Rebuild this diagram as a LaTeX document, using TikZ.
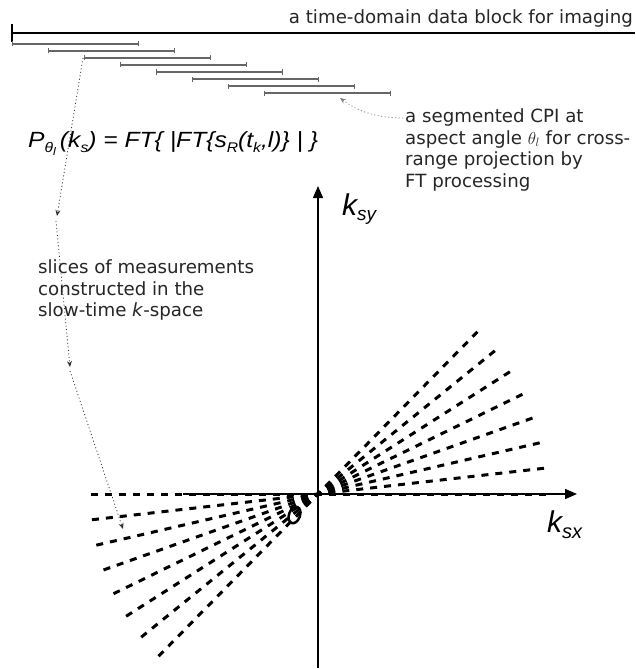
\documentclass[tikz,border=0pt]{standalone}
\usepackage{fontspec}
\setmainfont{DejaVu Sans}
\newfontfamily\arialfont{Liberation Sans}
\usetikzlibrary{arrows.meta}
\newcommand\mysub[1]{\raisebox{-5pt}{\fontsize{14}{14}\selectfont #1}}
\begin{document}
\begin{tikzpicture}[x=1pt,y=-1pt,
  lbl/.style={font=\fontsize{18.2}{21.8}\selectfont, inner sep=0pt, text=black!85},
  seg/.style={draw=black!60, line width=1.1pt, {Bar[width=5pt,line width=0.8pt]}-{Bar[width=5pt,line width=0.8pt]}},
  ray/.style={line width=3pt, dash pattern=on 7pt off 7pt, dash phase=3.5pt},
  axis/.style={line width=1.4pt, -{Triangle[length=12pt,width=10pt]}},
  dotarrow/.style={line width=0.8pt, draw=black!80, dash pattern=on 1pt off 2.5pt, -{Stealth[length=6pt,width=5pt]}},
  eqfont/.style={inner sep=0pt, font=\arialfont\itshape\fontsize{22}{24}\selectfont},
  kfont/.style={inner sep=0pt, font=\arialfont\itshape\fontsize{30}{32}\selectfont},
]
\useasboundingbox (0,0) rectangle (635,669);
\fill[white] (0,0) rectangle (635,669);

% top data block
\coordinate (b0) at (12,33);
\coordinate (b1) at (635,33);
\draw[line width=2pt] (b0) -- (b1);
\draw[line width=2.5pt] (12,24) -- (12,42);
\node[lbl, anchor=base east] (blk) at (633,24) {a time-domain data block for imaging};

% segmented CPIs
\foreach \i in {0,...,7} {
  \draw[seg] (12+36.05*\i, 44+7*\i) -- ++(126.5,0);
}

% formula
\node[eqfont, anchor=base west] (eq) at (28,147)
  {\scalebox{1.12}[1]{P\mysub{θ\raisebox{-3pt}{\fontsize{11}{11}\selectfont l}}\,(k\mysub{s}) = FT\{ |FT\{s\mysub{R}(t\mysub{k},l)\} | \}}};

% CPI text
\node[lbl, anchor=north west, align=left] (cpi) at (405,108.3)
  {a segmented CPI at\\aspect angle $\theta_l$ for cross-\\range projection by\\FT processing};

% slices text
\node[lbl, anchor=north west, align=left] (sl) at (38,259.3)
  {slices of measurements\\constructed in the\\slow-time \textit{k}-space};

% axes
\coordinate (O) at (318,494);
\coordinate (xl) at (183,494);
\coordinate (xr) at (577,494);
\coordinate (yb) at (318,668);
\coordinate (yt) at (318,186);
\draw[axis] (xl) -- (xr);
\draw[axis] (yb) -- (yt);
\node[kfont, anchor=base west] (ky) at (342,215) {k\raisebox{-5pt}{\fontsize{19}{19}\selectfont sy}};
\node[kfont, anchor=base west] (kx) at (547,532) {k\raisebox{-6pt}{\fontsize{20}{20}\selectfont sx}};

% rays
\foreach \k in {0,...,7} {
  \draw[ray] (O) -- ++(-6.5*\k:233);
  \draw[ray] (O) -- ++(180-6.5*\k:233);
}
\draw[line width=2.5pt, rotate around={-20:(294.5,515)}] (294.5,515) ellipse [x radius=5.5pt, y radius=8.5pt];

% dotted connectors
\coordinate (s3) at (83,58);
\coordinate (d1) at (57,216);
\coordinate (d2s) at (56,221);
\coordinate (d2) at (70,367);
\coordinate (d3s) at (70,371);
\coordinate (d3) at (123,529);
\draw[dotarrow] (s3) -- (d1);
\draw[dotarrow] (d2s) -- (d2);
\draw[dotarrow] (d3s) -- (d3);
\coordinate (c0) at (403,118);
\coordinate (c1) at (340,98);
\draw[dotarrow, draw=black!50] (c0) .. controls (372,118) and (355,109) .. (c1);
\end{tikzpicture}
\end{document}
